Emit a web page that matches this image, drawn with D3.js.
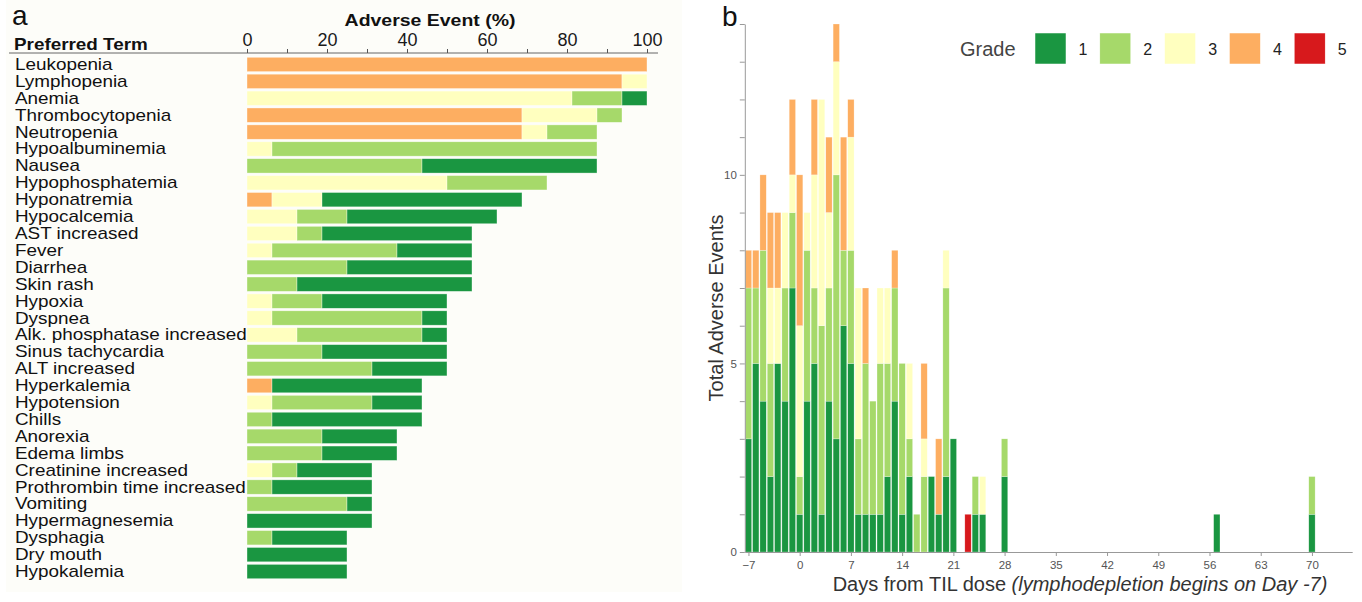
<!DOCTYPE html>
<html>
<head>
<meta charset="utf-8">
<script src="https://cdnjs.cloudflare.com/ajax/libs/d3/7.8.5/d3.min.js"></script>
<style>
  body { margin: 0; background: #fff; }
  svg { display: block; font-family: "Liberation Sans", Arial, Helvetica, sans-serif; }
</style>
</head>
<body>
<svg id="fig" width="1362" height="602"></svg>
<script>
// ---- panel a: patients with each event, by worst grade (16 patients)
const nPatients = 16;
const terms = ['Leukopenia', 'Lymphopenia', 'Anemia', 'Thrombocytopenia', 'Neutropenia',
  'Hypoalbuminemia', 'Nausea', 'Hypophosphatemia', 'Hyponatremia', 'Hypocalcemia',
  'AST increased', 'Fever', 'Diarrhea', 'Skin rash', 'Hypoxia', 'Dyspnea',
  'Alk. phosphatase increased', 'Sinus tachycardia', 'ALT increased', 'Hyperkalemia',
  'Hypotension', 'Chills', 'Anorexia', 'Edema limbs', 'Creatinine increased',
  'Prothrombin time increased', 'Vomiting', 'Hypermagnesemia', 'Dysphagia', 'Dry mouth',
  'Hypokalemia'];
const termG1 = [0, 0, 1, 0, 0, 0, 7, 0, 8, 6, 6, 3, 5, 7, 5, 1, 1, 5, 3, 6, 2, 6, 3, 3, 3, 4, 1, 5, 3, 4, 4];
const termG2 = [0, 0, 2, 1, 2, 13, 7, 4, 0, 2, 1, 5, 4, 2, 2, 6, 5, 3, 5, 0, 4, 1, 3, 3, 1, 1, 4, 0, 1, 0, 0];
const termG3 = [0, 1, 13, 3, 1, 1, 0, 8, 2, 2, 2, 1, 0, 0, 1, 1, 2, 0, 0, 0, 1, 0, 0, 0, 1, 0, 0, 0, 0, 0, 0];
const termG4 = [16, 15, 0, 11, 11, 0, 0, 0, 1, 0, 0, 0, 0, 0, 0, 0, 0, 0, 0, 1, 0, 0, 0, 0, 0, 0, 0, 0, 0, 0, 0];
const pctTicks = [0, 20, 40, 60, 80, 100];

// ---- panel b: events per day, by grade
const days = [-7, -6, -5, -4, -3, -2, -1, 0, 1, 2, 3, 4, 5, 6, 7, 8, 9, 10, 11, 12, 13, 14,
  15, 16, 17, 18, 19, 20, 21, 23, 24, 25, 28, 57, 70];
const dayG1 = [3, 5, 4, 2, 5, 4, 7, 1, 4, 5, 1, 4, 3, 6, 5, 1, 1, 1, 1, 2, 4, 1, 2, 0, 0, 2, 1, 2, 3, 0, 1, 1, 2, 1, 1];
const dayG2 = [4, 2, 4, 3, 0, 3, 2, 1, 4, 2, 5, 3, 7, 2, 3, 2, 4, 3, 4, 3, 3, 4, 1, 1, 2, 0, 0, 5, 0, 0, 1, 0, 1, 0, 1];
const dayG3 = [0, 0, 0, 2, 2, 2, 1, 4, 1, 3, 6, 2, 3, 0, 3, 4, 0, 0, 2, 2, 0, 0, 2, 0, 1, 0, 0, 1, 0, 0, 0, 1, 0, 0, 0];
const dayG4 = [1, 1, 2, 2, 2, 0, 2, 4, 0, 2, 0, 2, 1, 3, 1, 0, 2, 0, 0, 0, 1, 0, 0, 0, 2, 0, 2, 0, 0, 0, 0, 0, 0, 0, 0];
const dayG5 = [0, 0, 0, 0, 0, 0, 0, 0, 0, 0, 0, 0, 0, 0, 0, 0, 0, 0, 0, 0, 0, 0, 0, 0, 0, 0, 0, 0, 0, 1, 0, 0, 0, 0, 0];
const dayTicks = [-7, 0, 7, 14, 21, 28, 35, 42, 49, 56, 63, 70];
const countTicks = [0, 5, 10];

const grades = ['1', '2', '3', '4', '5'];
const gradeColor = d3.scaleOrdinal()
  .domain(['g1', 'g2', 'g3', 'g4', 'g5'])
  .range(['#1a9641', '#a6d96a', '#ffffbf', '#fdae61', '#d7191c']);

// the left panel's lettering is a bit wider than plain Arial
const stretch = 1.18;

const svg = d3.select('#fig');

// ================= panel a =================
svg.append('rect')
  .attr('x', 6).attr('y', 0).attr('width', 676).attr('height', 592)
  .attr('fill', '#fdfdf9');

const rowsA = terms.map((t, i) => ({
  term: t,
  g4: termG4[i] * 100 / nPatients,
  g3: termG3[i] * 100 / nPatients,
  g2: termG2[i] * 100 / nPatients,
  g1: termG1[i] * 100 / nPatients
}));

const xA = d3.scaleLinear().domain([0, 100]).range([247, 647]);
const yA = d3.scaleBand().domain(terms).range([56, 580]).paddingInner(0.15).paddingOuter(0.075);

const stackA = d3.stack().keys(['g4', 'g3', 'g2', 'g1'])(rowsA);

svg.append('g')
  .selectAll('g')
  .data(stackA)
  .join('g')
  .attr('fill', d => gradeColor(d.key))
  .selectAll('rect')
  .data(d => d.filter(s => s[1] > s[0]))
  .join('rect')
  .attr('x', d => xA(d[0]))
  .attr('width', d => xA(d[1]) - xA(d[0]))
  .attr('y', d => yA(d.data.term))
  .attr('height', yA.bandwidth())
  .attr('stroke', '#ffffff')
  .attr('stroke-opacity', 0.6)
  .attr('stroke-width', 0.6);

// top axis
svg.append('line')
  .attr('x1', 9).attr('x2', 658).attr('y1', 53).attr('y2', 53)
  .attr('stroke', '#666').attr('stroke-width', 1);

const axisA = svg.append('g')
  .attr('transform', 'translate(0,53)')
  .call(d3.axisTop(xA)
    .tickValues(d3.range(0, 101, 10))
    .tickSize(4)
    .tickSizeOuter(0)
    .tickPadding(3)
    .tickFormat(d => pctTicks.includes(d) ? d : ''));
axisA.select('.domain').remove();
axisA.selectAll('line').attr('stroke', '#555');
axisA.selectAll('text')
  .style('font-size', '18px')
  .attr('fill', '#1a1a1a');

svg.append('g')
  .selectAll('text')
  .data(terms)
  .join('text')
  .attr('transform', d => `translate(15,${yA(d) + yA.bandwidth() / 2 + 5.5}) scale(${stretch},1)`)
  .style('font-size', '16px')
  .attr('fill', '#111')
  .text(d => d);

svg.append('text')
  .attr('transform', `translate(14,50) scale(${stretch},1)`)
  .style('font-size', '16px').style('font-weight', 'bold')
  .attr('fill', '#111')
  .text('Preferred Term');

svg.append('text')
  .attr('transform', `translate(430,26) scale(${stretch},1)`)
  .attr('text-anchor', 'middle')
  .style('font-size', '16.5px').style('font-weight', 'bold')
  .attr('fill', '#111')
  .text('Adverse Event (%)');

svg.append('text')
  .attr('x', 12).attr('y', 25)
  .style('font-size', '28px')
  .attr('fill', '#111')
  .text('a');

// ================= panel b =================
const rowsB = days.map((d, i) => ({
  day: d, g1: dayG1[i], g2: dayG2[i], g3: dayG3[i], g4: dayG4[i], g5: dayG5[i]
}));

const xB = d3.scaleLinear().domain([-7.5, 75.5]).range([744.8, 1352.2]);
const yB = d3.scaleLinear().domain([0, 14]).range([552, 24]);
const dayW = xB(1) - xB(0);

const stackB = d3.stack().keys(['g1', 'g2', 'g3', 'g4', 'g5'])(rowsB);

svg.append('g')
  .selectAll('g')
  .data(stackB)
  .join('g')
  .attr('fill', d => gradeColor(d.key))
  .selectAll('rect')
  .data(d => d.filter(s => s[1] > s[0]))
  .join('rect')
  .attr('x', d => xB(d.data.day - 0.5) + 0.5)
  .attr('width', dayW - 1)
  .attr('y', d => yB(d[1]))
  .attr('height', d => yB(d[0]) - yB(d[1]))
  .attr('stroke', '#ffffff')
  .attr('stroke-opacity', 0.5)
  .attr('stroke-width', 0.5);

const yAxisB = svg.append('g')
  .attr('transform', `translate(${xB(-7.5)},0)`)
  .call(d3.axisLeft(yB)
    .tickValues(d3.range(0, 15))
    .tickSize(5)
    .tickSizeOuter(0)
    .tickPadding(3)
    .tickFormat(d => countTicks.includes(d) ? d : ''));
yAxisB.select('.domain').attr('stroke', '#999');
yAxisB.selectAll('line').attr('stroke', '#999');
yAxisB.selectAll('text').style('font-size', '11.5px').attr('fill', '#555');

const xAxisB = svg.append('g')
  .attr('transform', `translate(0,${yB(0)})`)
  .call(d3.axisBottom(xB)
    .tickValues(dayTicks)
    .tickSize(4)
    .tickSizeOuter(0)
    .tickPadding(5));
xAxisB.select('.domain').attr('stroke', '#999');
xAxisB.selectAll('line').attr('stroke', '#999');
xAxisB.selectAll('text').style('font-size', '11.5px').attr('fill', '#555');

svg.append('text')
  .attr('transform', 'rotate(-90)')
  .attr('x', -308).attr('y', 723)
  .attr('text-anchor', 'middle')
  .style('font-size', '20px')
  .attr('fill', '#333')
  .text('Total Adverse Events');

const xTitle = svg.append('text')
  .attr('x', 1080).attr('y', 591)
  .attr('text-anchor', 'middle')
  .style('font-size', '20px')
  .attr('fill', '#333');
xTitle.append('tspan').text('Days from TIL dose ');
xTitle.append('tspan').style('font-style', 'italic').text('(lymphodepletion begins on Day -7)');

svg.append('text')
  .attr('x', 722).attr('y', 26)
  .style('font-size', '28px')
  .attr('fill', '#111')
  .text('b');

// legend
const legend = svg.append('g').attr('transform', 'translate(960,0)');
legend.append('text')
  .attr('x', 0).attr('y', 56)
  .style('font-size', '20px')
  .attr('fill', '#444')
  .text('Grade');
const items = legend.selectAll('g.item')
  .data(grades)
  .join('g')
  .attr('class', 'item')
  .attr('transform', (d, i) => `translate(${75 + i * 64.8},33)`);
items.append('rect')
  .attr('width', 31).attr('height', 31)
  .attr('fill', (d, i) => gradeColor.range()[i])
  .attr('stroke', '#fff').attr('stroke-width', 0.5);
items.append('text')
  .attr('x', 48).attr('y', 22)
  .attr('text-anchor', 'middle')
  .style('font-size', '16px')
  .attr('fill', '#222')
  .text(d => d);
</script>
</body>
</html>
